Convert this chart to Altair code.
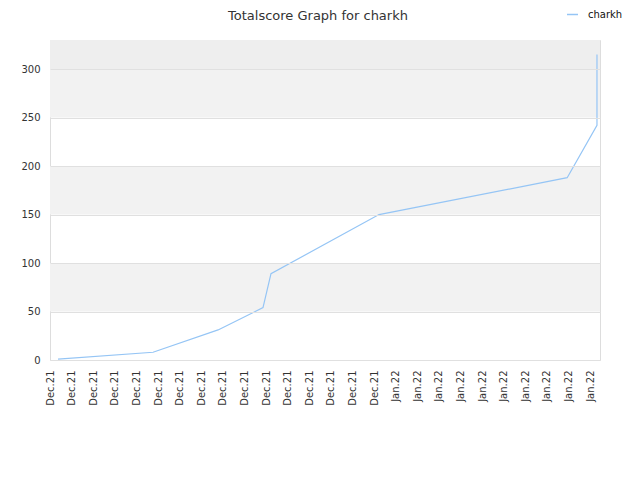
import altair as alt
import pandas as pd

# x positions in tick-index units (ticks 0..25), y = total score
series_name = "charkh"
xs = [0.37, 4.77, 7.78, 9.86, 10.23, 15.23, 23.94, 25.32, 25.32]
ys = [1, 8, 31, 54, 89, 150, 188, 242, 315]

tick_labels = ["Dec.21"] * 16 + ["Jan.22"] * 10
title_text = "Totalscore Graph for charkh"

band_lo = [50, 150, 250, 300]
band_hi = [100, 200, 300, 330]
band_col = ["#f2f2f2", "#f2f2f2", "#f2f2f2", "#eeeeee"]

line_df = pd.DataFrame({"t": xs, "score": ys, "series": [series_name] * len(xs)})
band_df = pd.DataFrame({"lo": band_lo, "hi": band_hi, "col": band_col})
title_df = pd.DataFrame({"title": [title_text]})

xdom = [0, 25.46]
ydom = [0, 330]
font = "DejaVu Sans"

label_array = "[" + ",".join("'%s'" % s for s in tick_labels) + "]"

xscale = alt.Scale(domain=xdom, nice=False, zero=False)
yscale = alt.Scale(domain=ydom, nice=False)

bands = alt.Chart(band_df).mark_rect().encode(
    x=alt.value(0),
    x2=alt.value(550),
    y=alt.Y("lo:Q", scale=yscale),
    y2="hi:Q",
    color=alt.Color("col:N", scale=None),
)

line = alt.Chart(line_df).mark_line(strokeWidth=1.2).encode(
    x=alt.X(
        "t:Q",
        scale=xscale,
        axis=alt.Axis(
            title=None,
            values=list(range(len(tick_labels))),
            labelExpr=label_array + "[datum.value]",
            labelAngle=-90,
            labelFont=font,
            labelFontSize=10,
            labelColor="#333333",
            labelPadding=10,
            ticks=False,
            domain=False,
            grid=False,
            labelOverlap=False,
        ),
    ),
    y=alt.Y(
        "score:Q",
        scale=yscale,
        axis=alt.Axis(
            title=None,
            values=[0, 50, 100, 150, 200, 250, 300],
            labelFont=font,
            labelFontSize=10,
            labelColor="#333333",
            labelPadding=10,
            ticks=False,
            domain=False,
            grid=True,
            gridColor="#e0e0e0",
            zindex=1,
        ),
    ),
    color=alt.Color(
        "series:N",
        scale=alt.Scale(range=["#95c5f5"]),
        legend=alt.Legend(
            title=None,
            orient="none",
            legendX=516,
            legendY=-32,
            symbolType="stroke",
            symbolSize=121,
            symbolStrokeWidth=1.5,
            labelOffset=9,
            labelFont=font,
            labelFontSize=10,
            labelColor="#111111",
        ),
    ),
)

title = alt.Chart(title_df).mark_text(
    font=font, fontSize=13, color="#333333", align="center", baseline="alphabetic"
).encode(text="title:N", x=alt.value(268), y=alt.value(-20))

chart = (
    alt.layer(bands, line, title)
    .properties(
        width=550,
        height=320,
        autosize=alt.AutoSizeParams(type="none"),
        padding={"left": 42, "top": 32, "right": 32, "bottom": 110},
    )
    .configure_view(stroke="#dddddd", strokeWidth=1)
    .configure(background="white")
)

chart.save("out.html", embed_options={"renderer": "svg", "actions": False})
